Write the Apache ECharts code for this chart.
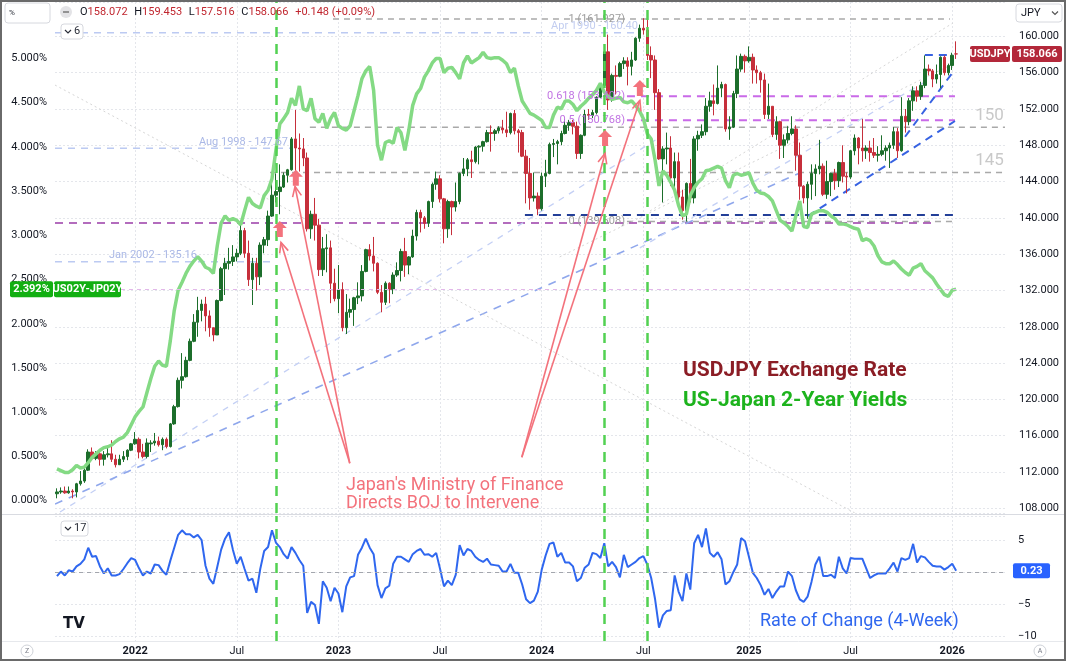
<!DOCTYPE html>
<html>
<head>
<meta charset="utf-8">
<title>USDJPY vs US-Japan 2-Year Yields</title>
<script src="https://cdn.jsdelivr.net/npm/echarts@6.0.0/dist/echarts.min.js"></script>
<style>
html,body{margin:0;padding:0;background:#ffffff;}
#chart{width:1066px;height:661px;}
</style>
</head>
<body>
<div id="chart"></div>
<script>
// ================= DATA =================
const firstWeekUTC = Date.UTC(2021, 7, 16);   // weekly bars, Monday of first bar
const emptyWeeksAfter = 12;                    // blank space right of the last bar

const usdOpen = [
109.6,109.8,109.9,109.7,109.9,109.8,110.7,111.0,112.2,114.2,
113.5,114.0,113.4,113.9,114.0,113.4,112.8,113.4,113.7,114.4,
115.1,115.6,114.2,113.7,115.1,115.2,115.4,115.0,115.6,114.8,
117.3,119.2,122.1,122.5,124.3,126.4,128.5,129.8,130.5,129.2,
127.9,127.1,130.9,134.4,135.0,135.2,135.7,136.1,138.6,136.1,
133.2,135.0,133.5,137.0,137.6,140.2,142.5,142.9,143.4,144.7,
145.3,148.7,147.7,147.6,146.6,138.8,140.4,139.2,134.3,136.6,
136.7,132.8,131.1,132.1,127.9,129.6,129.9,131.2,131.4,134.1,
136.5,135.8,135.0,131.8,130.7,132.8,132.1,133.7,134.2,136.3,
134.8,135.7,138.0,140.6,140.0,139.4,141.8,143.7,144.3,142.1,
138.8,141.8,141.2,141.8,144.9,145.4,146.4,146.2,147.8,147.9,
148.4,149.4,149.3,149.6,149.9,149.7,149.4,151.5,149.6,149.4,
146.8,144.9,142.2,142.4,141.0,144.6,144.9,148.1,148.2,148.4,
149.3,150.2,150.5,150.1,147.1,149.1,151.4,151.3,151.6,153.3,
154.6,158.3,153.0,155.7,155.6,157.0,157.3,156.7,157.4,159.8,
160.9,160.7,157.9,157.4,153.8,146.5,147.6,147.7,144.4,146.2,
142.3,140.8,143.8,142.2,148.7,149.1,149.5,152.3,152.9,152.6,
154.3,154.7,149.8,150.0,153.7,156.4,157.8,157.3,157.7,156.3,
156.0,155.2,151.4,152.3,149.2,150.6,148.0,148.6,149.3,149.8,
146.9,143.5,142.2,143.7,144.9,145.4,145.7,142.6,144.0,144.9,
144.1,146.1,144.6,144.5,147.4,148.8,147.7,147.4,147.7,147.2,
146.9,147.0,147.4,147.7,148.0,149.5,147.4,151.2,150.6,152.9,
154.0,153.4,154.6,156.4,156.2,155.3,155.8,157.7,156.0,156.8,
158.072];

const usdClose = [
109.8,109.9,109.7,109.9,109.8,110.7,111.0,112.2,114.2,113.5,
114.0,113.4,113.9,114.0,113.4,112.8,113.4,113.7,114.4,115.1,
115.6,114.2,113.7,115.2,115.2,115.4,115.0,115.6,114.8,117.3,
119.2,122.1,122.5,124.3,126.4,128.5,129.8,130.5,129.2,127.9,
127.1,130.9,134.4,135.0,135.2,135.7,136.1,138.6,136.1,133.2,
135.0,133.5,137.0,137.6,140.2,142.5,142.9,143.4,144.7,145.3,
148.7,147.7,147.6,146.6,138.8,140.4,139.2,134.3,136.6,136.7,
132.8,131.1,132.1,127.9,129.6,129.9,131.2,131.4,134.1,136.5,
135.8,135.0,131.8,130.7,132.8,132.1,133.7,134.2,136.3,134.8,
135.7,138.0,140.6,140.0,139.4,141.8,143.7,144.3,142.1,138.8,
141.8,141.2,141.8,144.9,145.4,146.4,146.2,147.8,147.9,148.4,
149.4,149.3,149.6,149.9,149.7,149.4,151.5,149.6,149.4,146.8,
144.9,142.2,142.4,141.0,144.6,144.9,148.1,148.2,148.4,149.3,
150.2,150.5,150.1,147.1,149.1,151.4,151.3,151.6,153.3,154.6,
158.3,153.0,155.7,155.6,157.0,157.3,156.7,157.4,159.8,160.9,
160.7,157.9,157.4,153.8,146.5,147.6,147.7,144.4,146.2,142.3,
140.8,143.8,142.2,148.7,149.1,149.5,152.3,152.9,152.6,154.3,
154.7,149.8,150.0,153.7,156.4,157.8,157.3,157.7,156.3,156.0,
155.2,151.4,152.3,149.2,150.6,148.0,148.6,149.3,149.8,146.9,
143.5,142.2,143.7,144.9,145.4,145.7,142.6,144.0,144.9,144.1,
146.1,144.6,144.5,147.4,148.8,147.7,147.4,147.7,147.2,146.9,
147.0,147.4,147.7,148.0,149.5,147.4,151.2,150.6,152.9,154.0,
153.4,154.6,156.4,156.2,155.3,155.8,157.7,156.0,156.8,157.918,
158.066];

const usdLow = [
109.1,109.6,109.6,109.6,109.1,109.2,110.5,110.8,112.1,113.4,
113.3,112.7,112.7,113.6,113.1,112.5,112.8,113.1,113.3,114.3,
115.0,113.5,113.5,113.5,114.2,114.9,114.8,114.4,114.6,114.7,
117.2,119.1,121.2,122.4,124.2,126.3,126.9,128.6,127.5,126.9,
126.4,127.1,130.8,131.5,134.3,134.7,135.2,135.9,135.6,132.5,
130.4,132.0,132.6,136.1,136.9,140.1,141.7,140.4,143.3,143.9,
145.2,144.5,145.1,145.7,138.5,137.7,137.5,133.6,133.6,134.0,
130.6,130.8,129.5,127.5,127.2,129.0,128.1,130.5,130.8,134.0,
135.3,134.1,131.6,129.6,130.4,130.6,131.6,133.5,133.0,133.5,
133.8,135.6,137.5,138.4,138.8,139.0,141.1,143.1,141.7,137.2,
137.8,138.1,140.7,141.5,144.6,144.6,144.4,146.0,145.9,147.3,
148.3,147.3,148.5,149.3,149.3,148.9,149.2,149.2,147.2,146.7,
141.6,140.9,141.8,140.3,140.8,143.4,144.8,146.7,145.9,148.0,
149.2,149.6,149.2,146.5,146.5,149.0,150.8,151.0,151.4,153.2,
154.5,151.9,152.8,153.6,155.5,156.4,154.6,155.7,157.3,159.4,
160.2,157.4,155.4,151.9,146.4,141.7,145.9,143.5,143.4,141.8,
139.8,139.6,141.7,141.6,147.4,148.8,149.1,151.7,151.3,152.5,
153.3,149.5,148.6,149.9,153.2,156.1,156.0,157.1,154.8,154.8,
153.8,150.9,150.9,148.9,148.6,146.5,146.6,148.2,149.1,145.2,
142.0,141.6,139.9,142.0,142.4,144.8,142.4,142.1,142.4,143.1,
143.4,143.9,142.7,144.3,146.9,145.9,146.2,146.5,146.2,146.6,
146.2,146.8,146.3,145.5,147.6,146.6,147.3,149.4,150.2,151.8,
152.8,153.0,154.3,155.7,154.4,154.8,154.3,155.7,155.7,156.3,
157.516];

const usdHigh = [
110.2,110.3,110.4,110.4,110.1,110.8,112.1,112.4,114.5,114.7,
114.3,114.4,114.3,114.9,115.5,113.9,113.9,114.3,114.5,115.2,
116.4,115.8,115.1,115.7,115.5,116.3,115.9,115.8,115.8,117.4,
119.4,122.4,125.1,124.7,126.7,129.4,131.3,131.0,131.3,129.8,
127.9,131.0,134.6,135.6,136.7,137.0,136.6,139.4,138.9,137.5,
135.6,135.6,137.3,137.9,140.8,145.0,144.9,145.9,145.0,145.4,
148.9,151.9,149.3,148.8,147.2,140.8,142.2,139.9,137.9,138.2,
137.5,134.4,134.8,132.9,131.6,131.1,131.3,132.9,134.8,136.6,
137.1,137.9,135.1,132.6,133.0,132.9,134.0,135.1,136.6,137.8,
135.8,138.7,140.9,140.9,140.2,141.9,143.9,145.1,144.7,142.2,
142.0,141.9,143.9,145.0,146.6,146.6,147.4,147.9,148.0,148.5,
149.7,150.2,149.8,150.1,150.8,151.7,151.6,151.9,149.8,149.7,
147.5,146.6,145.0,142.8,145.0,146.4,148.3,148.7,148.6,149.6,
150.9,150.8,150.8,150.6,149.2,151.9,152.0,151.9,153.4,154.8,
158.4,160.2,155.9,156.8,157.2,157.7,157.7,158.3,159.9,161.3,
162.0,161.8,158.9,157.9,154.2,147.9,149.4,149.0,147.2,147.2,
143.1,143.9,146.5,149.0,149.6,150.3,153.2,153.9,154.7,156.8,
155.0,154.8,151.2,154.0,157.9,158.1,158.0,158.9,158.1,156.8,
156.2,155.9,154.8,152.3,151.2,150.7,149.2,150.1,151.2,150.2,
148.3,143.6,144.0,145.9,145.9,148.6,146.0,146.3,145.0,145.4,
146.2,148.0,145.0,147.5,149.2,148.9,150.9,148.0,148.5,148.8,
147.9,149.1,148.0,148.3,150.0,149.9,153.3,152.0,153.2,154.5,
154.5,155.0,157.9,156.9,156.4,156.9,157.8,157.9,157.0,158.2,
159.453];

// US02Y - JP02Y spread, %
const yieldSpread = [
0.36,0.34,0.32,0.32,0.35,0.40,0.37,0.38,0.43,0.49,
0.53,0.57,0.60,0.61,0.63,0.67,0.70,0.72,0.77,0.86,
0.95,1.01,1.06,1.22,1.38,1.52,1.58,1.53,1.52,1.81,
2.15,2.38,2.47,2.57,2.65,2.71,2.76,2.71,2.64,2.62,
2.57,2.88,3.14,3.22,3.17,3.19,3.17,3.12,3.28,3.43,
3.36,3.33,3.31,3.45,3.51,3.64,3.96,4.26,4.32,4.39,
4.55,4.47,4.69,4.43,4.41,4.55,4.32,4.28,4.38,4.21,
4.32,4.39,4.24,4.21,4.19,4.24,4.41,4.58,4.77,4.86,
4.91,4.64,4.02,3.85,4.05,4.07,4.04,4.22,4.16,3.96,
4.19,4.47,4.60,4.66,4.79,4.86,4.95,5.00,5.00,4.84,
4.89,4.90,4.84,4.77,4.95,5.03,4.95,4.98,5.01,5.07,
5.01,5.00,5.01,5.01,4.98,4.94,4.84,4.89,4.69,4.52,
4.45,4.38,4.36,4.33,4.30,4.22,4.22,4.36,4.45,4.43,
4.52,4.52,4.48,4.41,4.46,4.50,4.55,4.59,4.64,4.72,
4.62,4.57,4.54,4.55,4.56,4.51,4.50,4.52,4.47,4.41,
4.32,4.15,4.09,3.85,3.56,3.73,3.68,3.60,3.51,3.34,
3.22,3.24,3.45,3.54,3.60,3.64,3.73,3.74,3.76,3.78,
3.76,3.62,3.54,3.68,3.70,3.68,3.69,3.71,3.59,3.51,
3.48,3.47,3.44,3.39,3.28,3.17,3.14,3.10,3.05,3.22,
3.39,3.10,3.09,3.24,3.26,3.28,3.28,3.26,3.22,3.19,
3.13,3.13,3.12,3.10,3.08,3.07,2.94,2.96,2.94,2.88,
2.77,2.70,2.68,2.68,2.71,2.67,2.62,2.58,2.55,2.63,
2.65,2.68,2.60,2.56,2.52,2.45,2.39,2.33,2.31,2.38,
2.392];

// Rate of Change (4-week), %
const roc4Week = [
-0.6,0.1,-0.5,0.3,0.1,0.9,1.3,2.0,3.8,2.4,
2.5,0.9,-0.2,0.6,-0.5,-0.5,-0.3,0.5,1.4,2.2,
1.9,0.6,-0.5,0.1,-0.2,1.2,1.1,0.2,-0.4,1.8,
3.8,5.8,6.5,5.9,5.9,5.4,5.8,5.0,1.0,-1.0,
-1.8,0.8,3.5,5.2,6.2,3.5,1.3,2.4,0.5,-1.3,
-1.0,-3.2,0.5,3.3,3.9,6.5,4.6,3.9,2.8,2.1,
3.9,3.0,1.9,1.0,-6.3,-4.6,-5.1,-8.0,-1.4,-2.4,
-4.5,-2.4,-3.3,-6.2,-2.2,-0.8,-0.6,2.7,3.8,5.2,
3.8,2.8,-2.0,-4.0,-2.5,-2.1,1.3,2.4,2.4,2.0,
1.6,2.8,3.3,3.6,2.7,2.8,2.4,3.0,0.5,-2.2,
-1.3,-2.0,-0.4,4.2,2.6,3.6,3.3,2.4,1.9,1.6,
2.1,1.2,1.1,1.0,0.1,0.1,1.3,-0.1,-0.1,-1.9,
-4.2,-4.8,-4.4,-3.0,0.4,2.6,4.4,4.6,2.4,3.0,
1.5,1.5,0.9,-1.4,-0.9,0.7,1.2,3.0,2.8,2.2,
4.5,0.9,1.6,0.8,-0.8,2.7,0.8,1.2,1.6,2.2,
2.5,1.2,-0.9,-4.2,-8.6,-6.7,-6.0,-5.9,-0.5,-3.0,
-4.5,-0.2,-2.7,4.5,5.8,3.9,6.8,3.0,2.4,3.1,
2.0,-1.9,-1.4,0.0,1.2,5.3,4.8,2.4,-0.1,-0.9,
-2.0,-3.5,-2.6,-4.0,-3.0,-2.2,-2.2,0.1,-0.6,-2.8,
-4.2,-4.6,-3.8,-1.5,1.2,2.4,-0.6,-0.6,-0.4,-0.9,
2.4,0.6,-0.2,2.2,2.1,2.1,2.1,0.6,-0.9,-0.5,
-0.2,-0.2,-0.2,0.6,1.5,0.1,2.2,1.9,2.2,4.4,
1.5,2.5,2.3,1.6,1.0,0.9,0.9,0.4,0.8,1.3,
0.23];

// Levels drawn on the price pane (USDJPY)
const fibLevels  = [161.927, 153.402, 150.768, 139.608];
const fibRatios  = ['1', '0.618', '0.5', '0'];
const historicLevels = [160.40, 147.67, 135.16];
const historicNames  = ['Apr 1990', 'Aug 1998', 'Jan 2002'];
const roundLevels = [150, 145];
const supportLevels = [140.32, 139.44];
const flagTopLevel = 157.95;

// Intervention weeks (bar index) and the arrow markers (bar index, price)
const interventionWeeks = [56, 140, 151];
const interventionMarks = [[57.0,138.78],[61.1,144.42],[140.2,148.80],[149.1,154.31]];

// Trend drawings: [bar index, price, bar index, price]
const trendLongLight = [0.8,107.59,153.5,148.69];
const trendLongMid   = [-0.5,108.47,190.0,144.95];
const trendUpperRay  = [149.1,136.69,222.0,154.98];
const trend2025      = [192.1,140.21,229.7,150.68];
const trendFlag      = [214.8,147.70,229.2,156.08];
const faintDown      = [-0.5,154.64,204.1,107.48];
const faintUpA       = [128.6,135.70,229.2,156.96];
const faintUpB       = [151.7,140.76,229.2,161.48];

// Callout arrows from the text to the intervention markers
const calloutArrows = [
  [74.9,112.96,57.3,137.3],[74.9,112.96,60.9,143.47],
  [118.9,113.62,140.2,147.1],[118.9,113.62,149.1,152.95]
];

// ================= BUILD =================
const nBars = usdClose.length;
const nSlots = nBars + emptyWeeksAfter;
const weeks = [];
for (let k = 0; k < nSlots; k++) {
  weeks.push(new Date(firstWeekUTC + k * 7 * 86400000).toISOString().slice(0, 10));
}
function monthOf(i){ return +weeks[i].slice(5,7); }
const labelIdx = new Set();
for (let k = 1; k < nBars; k++) {
  const m = monthOf(k), pm = monthOf(k-1);
  if (m !== pm && (m === 1 || m === 7)) labelIdx.add(k);
}
const labelInterval = (idx) => labelIdx.has(idx);

const candles = usdClose.map((c, i) => [usdOpen[i], c, usdLow[i], usdHigh[i]]);

const ST = [
  {c:'#a9a9a9', w:1.5, d:[6,5]},      // 0 gray
  {c:'#bccaf2', w:1.5, d:[7,6]},      // 1 light blue (historic)
  {c:'#c96ae8', w:2,   d:[8,6]},      // 2 magenta fib
  {c:'#233f98', w:2,   d:[8,6]},      // 3 navy
  {c:'#9b3ca8', w:1.5, d:[8,6]},      // 4 purple
  {c:'#c4d0f5', w:1.3, d:[6,6]},      // 5 light diagonal
  {c:'#8fa7ec', w:1.6, d:[8,7]},      // 6 mid diagonal
  {c:'#3762e2', w:2,   d:[8,6]},      // 7 bold blue
  {c:'#d6d6d6', w:1,   d:[2,3]}       // 8 faint dotted
];
const xEnd = nSlots - 0.5;
const lineData = [
  [70.6, fibLevels[0], 228.4, fibLevels[0], 0],
  [145.8, fibLevels[1], 229.7, fibLevels[1], 2],
  [145.8, fibLevels[2], 229.7, fibLevels[2], 2],
  [145.8, fibLevels[3], 230.0, fibLevels[3], 0],
  [-0.5, historicLevels[0], 149.3, historicLevels[0], 1],
  [-0.5, historicLevels[1], 60.2, historicLevels[1], 1],
  [-0.5, historicLevels[2], 56.0, historicLevels[2], 1],
  [64.7, roundLevels[0], xEnd, roundLevels[0], 0],
  [54.5, roundLevels[1], xEnd, roundLevels[1], 0],
  [119.7, supportLevels[0], 230.0, supportLevels[0], 3],
  [-0.5, supportLevels[1], 224.6, supportLevels[1], 4],
  [222.0, flagTopLevel, 229.2, flagTopLevel, 7],
  trendLongLight.concat([5]),
  trendLongMid.concat([6]),
  trendUpperRay.concat([5]),
  trend2025.concat([7]),
  trendFlag.concat([7]),
  faintDown.concat([8]),
  faintUpA.concat([8]),
  faintUpB.concat([8])
];

const fibColor = '#c174e3', grayTxt = '#9d9d9d', histTxt = '#aab8e6';
const f11 = '11px Roboto';
const labelDefs = [
  {x:145.3, v:fibLevels[0], t:fibRatios[0]+' ('+fibLevels[0].toFixed(3)+')', c:grayTxt, f:f11, va:'middle', dy:0},
  {x:145.3, v:fibLevels[1], t:fibRatios[1]+' ('+fibLevels[1].toFixed(3)+')', c:fibColor, f:f11, va:'middle', dy:0},
  {x:145.3, v:fibLevels[2], t:fibRatios[2]+' ('+fibLevels[2].toFixed(3)+')', c:fibColor, f:f11, va:'middle', dy:0},
  {x:145.3, v:fibLevels[3], t:fibRatios[3]+' ('+fibLevels[3].toFixed(3)+')', c:grayTxt, f:f11, va:'middle', dy:0},
  {x:148.6, v:historicLevels[0], t:historicNames[0]+' - '+historicLevels[0].toFixed(2), c:'#c2cdf0', f:f11, va:'bottom', dy:-1},
  {x:59.1, v:historicLevels[1], t:historicNames[1]+' - '+historicLevels[1].toFixed(2), c:histTxt, f:f11, va:'bottom', dy:-1},
  {x:35.8, v:historicLevels[2], t:historicNames[2]+' - '+historicLevels[2].toFixed(2), c:histTxt, f:f11, va:'bottom', dy:-1},
  {x:242.2, v:roundLevels[0], t:String(roundLevels[0]), c:'#c9c9c9', f:'17px Roboto', va:'bottom', dy:-3},
  {x:242.2, v:roundLevels[1], t:String(roundLevels[1]), c:'#c9c9c9', f:'17px Roboto', va:'bottom', dy:-3}
];

const chart = echarts.init(document.getElementById('chart'), null, {renderer:'canvas'});

const gridLineStyle = {color:'#e4e6eb', width:1, type:[2,2]};
const vLineStyle = {color:'#52d152', width:2.5, type:[10,7]};
const pink = '#f3727c';
const axisTxt = {color:'#131722', fontSize:11, fontFamily:'Roboto'};

const option = {
  animation: false,
  backgroundColor: '#ffffff',
  grid: [
    {left:55, right:61, top:2, bottom:148},
    {left:55, right:61, top:516, bottom:20}
  ],
  xAxis: [
    {type:'category', gridIndex:0, data:weeks, boundaryGap:true,
     axisLine:{show:false}, axisTick:{show:false}, axisLabel:{show:false},
     splitLine:{show:true, interval:labelInterval, alignWithLabel:true, lineStyle:gridLineStyle}},
    {type:'category', gridIndex:1, data:weeks, boundaryGap:true,
     axisLine:{show:false}, axisTick:{show:false},
     axisLabel:{show:true, interval:labelInterval, margin:5, color:'#131722', fontSize:11, fontFamily:'Roboto',
       formatter:(v)=> v.slice(5,7)==='01' ? '{y|'+v.slice(0,4)+'}' : 'Jul',
       rich:{y:{fontWeight:'bold', fontSize:11, fontFamily:'Roboto', color:'#131722'}}},
     splitLine:{show:true, interval:labelInterval, alignWithLabel:true, lineStyle:gridLineStyle}},
    {type:'value', gridIndex:0, min:-0.5, max:xEnd, show:false}
  ],
  yAxis: [
    {type:'value', gridIndex:0, position:'left', min:-0.139, max:5.639, minInterval:0.5, maxInterval:0.5,
     axisLine:{show:false}, axisTick:{show:false}, splitLine:{show:false},
     axisLabel:Object.assign({margin:8, showMinLabel:false, showMaxLabel:false,
       formatter:(v)=> v.toFixed(3)+'%'}, axisTxt)},
    {type:'value', gridIndex:0, position:'right', min:107.48, max:163.79, minInterval:4, maxInterval:4,
     axisLine:{show:false}, axisTick:{show:false},
     splitLine:{show:true, lineStyle:gridLineStyle},
     axisLabel:Object.assign({margin:14, showMinLabel:false, showMaxLabel:false,
       formatter:(v)=> v.toFixed(3)}, axisTxt)},
    {type:'value', gridIndex:1, position:'right', min:-10.67, max:8.72, minInterval:5, maxInterval:5,
     axisLine:{show:false}, axisTick:{show:false},
     splitLine:{show:true, lineStyle:gridLineStyle},
     axisLabel:Object.assign({margin:13, showMinLabel:false, showMaxLabel:false,
       formatter:(v)=> v<0 ? '\u2212'+Math.abs(v) : String(v)}, axisTxt)}
  ],
  series: [
    {type:'custom', name:'drawings', xAxisIndex:2, yAxisIndex:1, z:1, clip:true, silent:true,
     data:lineData,
     renderItem:(params, api)=>{
       const s = ST[api.value(4)];
       const a = api.coord([api.value(0), api.value(1)]);
       const b = api.coord([api.value(2), api.value(3)]);
       return {type:'line', shape:{x1:a[0], y1:a[1], x2:b[0], y2:b[1]},
               style:{stroke:s.c, lineWidth:s.w, lineDash:s.d, fill:null}};
     }},
    {type:'candlestick', name:'USDJPY', xAxisIndex:0, yAxisIndex:1, z:2, barWidth:3,
     data:candles,
     itemStyle:{color:'#1c6e2b', color0:'#c62f3b', borderColor:'#1c6e2b', borderColor0:'#c62f3b', borderWidth:1}},
    {type:'line', name:'US02Y-JP02Y', xAxisIndex:0, yAxisIndex:0, z:3,
     data:yieldSpread, showSymbol:false, symbol:'none',
     lineStyle:{color:'#84da84', width:3.5},
     markLine:{silent:true, symbol:['none','none'], label:{show:false}, animation:false,
       data:[
         [{coord:[weeks[0], yieldSpread[nBars-1]], lineStyle:{color:'#e2b8e9', width:1, type:[4,4]}},
          {coord:[weeks[nBars-1], yieldSpread[nBars-1]]}],
         ...interventionWeeks.map(i=>({xAxis:weeks[i], lineStyle:vLineStyle}))
       ]}},
    {type:'custom', name:'levelLabels', xAxisIndex:2, yAxisIndex:1, z:4, silent:true,
     data:labelDefs.map(d=>[d.x, d.v]),
     renderItem:(params, api)=>{
       const d = labelDefs[params.dataIndex];
       const p = api.coord([api.value(0), api.value(1)]);
       return {type:'text', x:p[0], y:p[1]+d.dy,
               style:{text:d.t, fill:d.c, font:d.f, align:'right', verticalAlign:d.va}};
     }},
    {type:'custom', name:'callouts', xAxisIndex:2, yAxisIndex:1, z:5, silent:true,
     data:calloutArrows,
     renderItem:(params, api)=>{
       const a = api.coord([api.value(0), api.value(1)]);
       const b = api.coord([api.value(2), api.value(3)]);
       const ang = Math.atan2(b[1]-a[1], b[0]-a[0]);
       const L = 11, sp = 0.42;
       const p1 = [b[0]-L*Math.cos(ang-sp), b[1]-L*Math.sin(ang-sp)];
       const p2 = [b[0]-L*Math.cos(ang+sp), b[1]-L*Math.sin(ang+sp)];
       return {type:'group', children:[
         {type:'line', shape:{x1:a[0], y1:a[1], x2:b[0], y2:b[1]}, style:{stroke:pink, lineWidth:1.6}},
         {type:'polyline', shape:{points:[p1, b, p2]}, style:{stroke:pink, lineWidth:1.6, fill:null}}
       ]};
     }},
    {type:'scatter', name:'intervention', xAxisIndex:2, yAxisIndex:1, z:5, silent:true,
     data:interventionMarks,
     symbol:'path://M7,0 L14,7 L10,7 L10,16 L4,16 L4,7 L0,7 Z', symbolSize:[14,16],
     itemStyle:{color:pink, opacity:1}},
    {type:'line', name:'ROC', xAxisIndex:1, yAxisIndex:2, z:3,
     data:roc4Week, showSymbol:false, symbol:'none',
     lineStyle:{color:'#2f67ef', width:2},
     markLine:{silent:true, symbol:['none','none'], label:{show:false}, animation:false,
       data:[
         {yAxis:0, lineStyle:{color:'#a3a6ad', width:1, type:[4,4]}},
         ...interventionWeeks.map(i=>({xAxis:weeks[i], lineStyle:vLineStyle}))
       ]}}
  ]
};
chart.setOption(option);

// ---------- overlays (legend boxes, titles, price tags) ----------
const last = nBars - 1;
const yUsd = chart.convertToPixel({yAxisIndex:1}, usdClose[last]);
const ySpr = chart.convertToPixel({yAxisIndex:0}, yieldSpread[last]);
const yRoc = chart.convertToPixel({yAxisIndex:2}, roc4Week[last]);

function tag(x, yc, w, h, fill, text){
  return [
    {type:'rect', z:100, shape:{x:x, y:yc-h/2, width:w, height:h, r:2}, style:{fill:fill}},
    {type:'text', z:101, x:x+w/2, y:yc+0.5, style:{text:text, fill:'#ffffff', font:'bold 11px Roboto',
      align:'center', verticalAlign:'middle', textAlign:'center', textVerticalAlign:'middle'}}
  ];
}
function txt(x, y, text, font, fill, align){
  return {type:'text', z:101, x:x, y:y, style:{text:text, font:font, fill:fill,
    align:align||'left', verticalAlign:'middle', textAlign:align||'left', textVerticalAlign:'middle'}};
}
function chevron(x, y, color){
  return {type:'polyline', z:101, shape:{points:[[x-3,y-1.5],[x,y+1.5],[x+3,y-1.5]]}, style:{stroke:color, lineWidth:1.2, fill:null}};
}

const chg = usdClose[last] - usdClose[last-1];
const pct = chg / usdClose[last-1] * 100;
const sgn = (v)=> (v>=0?'+':'') ;
const headerText = '{k|O}{v|'+usdOpen[last].toFixed(3)+'}  {k|H}{v|'+usdHigh[last].toFixed(3)+
  '}  {k|L}{v|'+usdLow[last].toFixed(3)+'}  {k|C}{v|'+usdClose[last].toFixed(3)+'}  {v|'+
  sgn(chg)+chg.toFixed(3)+' ('+sgn(pct)+pct.toFixed(2)+'%)}';

const graphics = [
  // "%" selector and collapse buttons
  {type:'rect', z:100, shape:{x:5, y:3, width:45, height:20, r:3}, style:{fill:'#ffffff', stroke:'#d6d8de', lineWidth:1}},
  txt(9, 13, '%', '8px Roboto', '#2a2e39'),
  {type:'rect', z:100, shape:{x:61, y:24, width:22, height:15, r:3}, style:{fill:'#ffffff', stroke:'#d6d8de', lineWidth:1}},
  chevron(68, 31.5, '#2a2e39'),
  txt(74, 31.5, '6', '11px Roboto', '#2a2e39'),
  {type:'rect', z:100, shape:{x:61, y:521, width:27, height:15, r:3}, style:{fill:'#ffffff', stroke:'#d6d8de', lineWidth:1}},
  chevron(68, 528.5, '#2a2e39'),
  txt(74, 528.5, '17', '11px Roboto', '#2a2e39'),
  // JPY currency box
  {type:'rect', z:100, shape:{x:1016, y:4, width:46, height:18, r:3}, style:{fill:'#ffffff', stroke:'#d6d8de', lineWidth:1}},
  txt(1021, 13.5, 'JPY', '11px Roboto', '#131722'),
  chevron(1055, 13, '#555'),
  // header legend
  {type:'circle', z:100, shape:{cx:66, cy:12, r:6}, style:{fill:'#e3e3e6'}},
  {type:'line', z:101, shape:{x1:63, y1:12, x2:69, y2:12}, style:{stroke:'#777', lineWidth:1.5}},
  {type:'text', z:101, x:80, y:12.5, style:{text:headerText, verticalAlign:'middle', textVerticalAlign:'middle',
    rich:{k:{fill:'#131722', color:'#131722', font:'11px Roboto', fontSize:11, fontFamily:'Roboto'},
          v:{fill:'#c0262f', color:'#c0262f', font:'11px Roboto', fontSize:11, fontFamily:'Roboto'}}}},
  // chart titles / callout text
  txt(683, 371, 'USDJPY Exchange Rate', 'bold 21px Roboto', '#8b1d25'),
  txt(683, 401, 'US-Japan 2-Year Yields', 'bold 21px Roboto', '#1db31d'),
  txt(346, 485, "Japan's Ministry of Finance", '18px Roboto', pink),
  txt(346, 503, 'Directs BOJ to Intervene', '18px Roboto', pink),
  txt(760, 621, 'Rate of Change (4-Week)', '18px Roboto', '#2f67ef'),
  // TradingView-like logo
  txt(63, 624, 'TV', 'bold 15px "DejaVu Sans"', '#131722'),
  // bottom corner buttons
  {type:'circle', z:100, shape:{cx:27, cy:651, r:6}, style:{fill:'#ffffff', stroke:'#cfd2d8', lineWidth:1}},
  txt(27, 651.5, 'Z', '7px Roboto', '#787b86', 'center'),
  {type:'circle', z:100, shape:{cx:1040, cy:651, r:6}, style:{fill:'#ffffff', stroke:'#cfd2d8', lineWidth:1}},
  txt(1040, 651.5, 'A', '7px Roboto', '#787b86', 'center'),
  // pane separators and outer frame
  {type:'line', z:99, shape:{x1:2, y1:514.5, x2:1064, y2:514.5}, style:{stroke:'#d9dbe1', lineWidth:1}},
  {type:'line', z:99, shape:{x1:2, y1:641.5, x2:1064, y2:641.5}, style:{stroke:'#e6e8ec', lineWidth:1}},
  {type:'rect', z:102, shape:{x:1, y:1, width:1064, height:659}, style:{fill:null, stroke:'#6a6a6a', lineWidth:2}}
]
.concat(tag(970, yUsd, 40, 16, '#b3283a', 'USDJPY'))
.concat(tag(1012, yUsd, 50, 16, '#b3283a', usdClose[last].toFixed(3)))
.concat(tag(10, ySpr, 43, 16, '#12af12', yieldSpread[last].toFixed(3)+'%'))
.concat(tag(54, ySpr, 67, 16, '#12af12', 'US02Y-JP02Y'))
.concat(tag(1013, yRoc, 37, 15, '#2962ff', roc4Week[last].toFixed(2)));

chart.setOption({graphic: graphics});
</script>
</body>
</html>
